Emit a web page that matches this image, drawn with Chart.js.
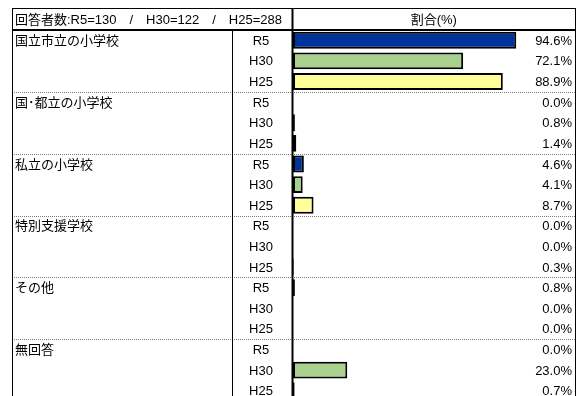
<!DOCTYPE html>
<html lang="ja">
<head>
<meta charset="utf-8">
<script src="https://cdn.jsdelivr.net/npm/chart.js@4"></script>
<style>
  html, body { margin: 0; padding: 0; background: #ffffff; overflow: hidden; width: 580px; height: 396px; }
  canvas { display: block; }
</style>
</head>
<body>
<canvas id="c" width="580" height="404"></canvas>
<script>
// School types and yearly shares (%)
const groups = ["国立市立の小学校", "国･都立の小学校", "私立の小学校", "特別支援学校", "その他", "無回答"];
const years = ["R5", "H30", "H25"];
const valuesR5  = [94.6, 0.0, 4.6, 0.0, 0.8, 0.0];
const valuesH30 = [72.1, 0.8, 4.1, 0.0, 0.0, 23.0];
const valuesH25 = [88.9, 1.4, 8.7, 0.3, 0.0, 0.7];
const headerLeft = "回答者数:R5=130　/　H30=122　/　H25=288";
const headerRight = "割合(%)";

const yearColors = { R5: "#003399", H30: "#A9D18E", H25: "#FFFF99" };
const seriesByYear = { R5: valuesR5, H30: valuesH30, H25: valuesH25 };

// One row per (school type, year)
const rowLabels = [];
const rowValues = [];
const rowColors = [];
groups.forEach((g, gi) => {
  years.forEach(y => {
    rowLabels.push(g + "|" + y);
    rowValues.push(seriesByYear[y][gi]);
    rowColors.push(yearColors[y]);
  });
});

const FONT = '"Liberation Sans", "Noto Sans CJK JP", sans-serif';

const tableFrame = {
  id: "tableFrame",
  beforeDraw(chart) {
    const ctx = chart.ctx;
    ctx.save();
    ctx.fillStyle = "#ffffff";
    ctx.fillRect(0, 0, chart.width, chart.height);
    ctx.restore();
  },
  afterDraw(chart) {
    const ctx = chart.ctx;
    const area = chart.chartArea;
    const ys = chart.scales.y;
    const rowH = ys.getPixelForValue(1) - ys.getPixelForValue(0);
    const left = 12, right = 575, top = 8, headBottom = area.top;
    const colDiv = 232, axisX = area.left - 0.5;
    const bottom = chart.height;

    ctx.save();
    // dotted separators between school types
    ctx.strokeStyle = "#7a7a7a";
    ctx.lineWidth = 1;
    ctx.setLineDash([1, 1]);
    for (let gi = 1; gi < groups.length; gi++) {
      const yy = Math.round(ys.getPixelForValue(gi * 3) - rowH / 2) + 0.5;
      ctx.beginPath();
      ctx.moveTo(left, yy);
      ctx.lineTo(right, yy);
      ctx.stroke();
    }
    ctx.setLineDash([]);

    // frame lines
    ctx.strokeStyle = "#000000";
    ctx.lineWidth = 1;
    ctx.beginPath();
    ctx.moveTo(left, top + 0.5); ctx.lineTo(right + 0.5, top + 0.5);
    ctx.moveTo(left + 0.5, top); ctx.lineTo(left + 0.5, bottom);
    ctx.moveTo(right + 0.5, top); ctx.lineTo(right + 0.5, bottom);
    ctx.moveTo(colDiv + 0.5, headBottom); ctx.lineTo(colDiv + 0.5, bottom);
    ctx.stroke();

    ctx.lineWidth = 2;
    ctx.beginPath();
    ctx.moveTo(left, headBottom); ctx.lineTo(right + 1, headBottom);
    ctx.moveTo(axisX, top); ctx.lineTo(axisX, bottom);
    ctx.stroke();

    // header texts
    ctx.fillStyle = "#000000";
    ctx.font = "13px " + FONT;
    ctx.textBaseline = "middle";
    ctx.textAlign = "left";
    ctx.fillText(headerLeft, 15, (top + headBottom) / 2 + 1);
    ctx.textAlign = "center";
    ctx.fillText(headerRight, (axisX + right) / 2, (top + headBottom) / 2 + 1);

    // group names, year labels and values
    rowLabels.forEach((lab, i) => {
      const cy = ys.getPixelForValue(i) + 1;
      const gi = Math.floor(i / 3);
      const yr = years[i % 3];
      if (i % 3 === 0) {
        ctx.textAlign = "left";
        ctx.fillText(groups[gi], 15, cy);
      }
      ctx.textAlign = "center";
      ctx.fillText(yr, 261, cy);
      ctx.textAlign = "right";
      ctx.fillText(rowValues[i].toFixed(1) + "%", 572, cy);
    });
    ctx.restore();
  }
};

new Chart(document.getElementById("c"), {
  type: "bar",
  data: {
    labels: rowLabels,
    datasets: [{
      data: rowValues,
      backgroundColor: rowColors,
      borderColor: "#000000",
      borderWidth: 2,
      borderSkipped: false,
      categoryPercentage: 1.0,
      barPercentage: 0.82
    }]
  },
  options: {
    indexAxis: "y",
    responsive: false,
    animation: false,
    layout: { padding: { left: 293, right: 51, top: 30, bottom: 3 } },
    plugins: { legend: { display: false }, tooltip: { enabled: false } },
    scales: {
      x: { display: false, min: 0, max: 100 },
      y: { display: false }
    }
  },
  plugins: [tableFrame]
});
</script>
</body>
</html>
